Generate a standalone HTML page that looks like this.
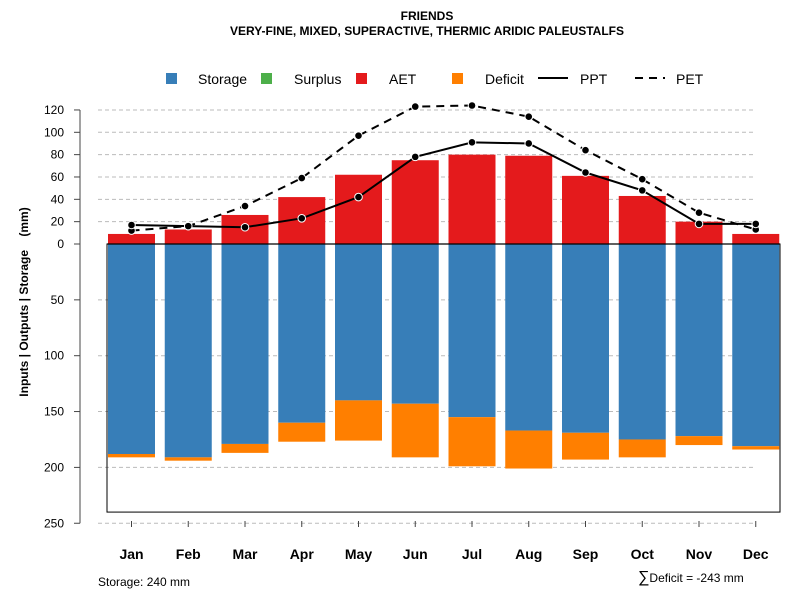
<!DOCTYPE html>
<html><head><meta charset="utf-8"><style>
body{margin:0;background:#fff;}
svg text{font-family:"Liberation Sans",Arial,sans-serif;}
</style></head><body>
<svg id="chart" width="800" height="600" xmlns="http://www.w3.org/2000/svg">
<text x="427" y="20" text-anchor="middle" font-size="12" font-weight="bold">FRIENDS</text>
<text x="427" y="35" text-anchor="middle" font-size="12" font-weight="bold">VERY-FINE, MIXED, SUPERACTIVE, THERMIC ARIDIC PALEUSTALFS</text>
<g id="legend">
<g><rect x="166" y="73" width="11" height="11" fill="#377eb8"/><text x="198" y="84" font-size="14">Storage</text></g>
<g><rect x="261" y="73" width="11" height="11" fill="#4daf4a"/><text x="294" y="84" font-size="14">Surplus</text></g>
<g><rect x="356" y="73" width="11" height="11" fill="#e41a1c"/><text x="389" y="84" font-size="14">AET</text></g>
<g><rect x="452" y="73" width="11" height="11" fill="#ff7f00"/><text x="485" y="84" font-size="14">Deficit</text></g>
<g><line x1="538" y1="78" x2="568" y2="78" stroke="#000" stroke-width="2"/><text x="580" y="84" font-size="14">PPT</text></g>
<g><line x1="635" y1="78" x2="665" y2="78" stroke="#000" stroke-width="2" stroke-dasharray="8,6"/><text x="676" y="84" font-size="14">PET</text></g>
</g>
<text transform="translate(28,302) rotate(-90)" text-anchor="middle" font-size="12" font-weight="bold" style="white-space:pre" xml:space="preserve">Inputs | Outputs | Storage    (mm)</text>
<text x="98" y="586" font-size="12">Storage: 240 mm</text>
<text x="638" y="582" font-size="12"><tspan font-size="16">∑</tspan>Deficit = -243 mm</text>
<g id="grid"></g><g id="bars"></g><g id="lines"></g><g id="axes"></g>
</svg>
<script>
const months=["Jan","Feb","Mar","Apr","May","Jun","Jul","Aug","Sep","Oct","Nov","Dec"];
const aet=[9,13,26,42,62,75,80,79,61,43,20,9];
const ppt=[17,16,15,23,42,78,91,90,64,48,18,18];
const pet=[12,16,34,59,97,123,124,114,84,58,28,13];
const storage=[188,191,179,160,140,143,155,167,169,175,172,181];
const deficit=[3,3,8,17,36,48,44,34,24,16,8,3];
const upTicks=[0,20,40,60,80,100,120];
const downTicks=[50,100,150,200,250];
const capacity=240;
const NS="http://www.w3.org/2000/svg";
const y0=244,k=1.117;
function yUp(v){return y0-v*k;}
function yDown(v){return y0+v*k;}
function xc(i){return 131.5+i*56.75;}
const bw=47;
function mk(tag,attrs,parent){const e=document.createElementNS(NS,tag);for(const a in attrs)e.setAttribute(a,attrs[a]);document.getElementById(parent).appendChild(e);return e;}
upTicks.forEach(t=>{if(t===0)return;const l=mk('line',{x1:98,x2:756,y1:yUp(t),y2:yUp(t),stroke:'#bbb','stroke-dasharray':'4,3'},'grid');

});
downTicks.forEach(t=>{const l=mk('line',{x1:98,x2:756,y1:yDown(t),y2:yDown(t),stroke:'#bbb','stroke-dasharray':'4,3'},'grid');

});
months.forEach((m,i)=>{
const x=xc(i)-bw/2;
const r=mk('rect',{x:x,y:yUp(aet[i]),width:bw,height:aet[i]*k,fill:'#e41a1c'},'bars');


const s=mk('rect',{x:x,y:y0,width:bw,height:storage[i]*k,fill:'#377eb8'},'bars');


const d=mk('rect',{x:x,y:yDown(storage[i]),width:bw,height:deficit[i]*k,fill:'#ff7f00'},'bars');


});
const box=mk('rect',{x:107,y:y0,width:673,height:capacity*k,fill:'none',stroke:'#000','stroke-width':1},'bars');


const zl=mk('line',{x1:107,x2:780,y1:y0,y2:y0,stroke:'#000','stroke-width':1.2},'bars');


function series(vals,name,dash){
const p=mk('polyline',{points:vals.map((v,i)=>xc(i)+','+yUp(v)).join(' '),fill:'none',stroke:'#000','stroke-width':2,'stroke-dasharray':dash},'lines');


vals.forEach((v,i)=>{const c=mk('circle',{cx:xc(i),cy:yUp(v),r:3.8,fill:'#000',stroke:'#fff','stroke-width':1},'lines');

});
}
series(pet,'pet','8,6');
series(ppt,'ppt','none');
const ya=mk('line',{x1:80,x2:80,y1:yUp(120),y2:yDown(250),stroke:'#444','stroke-width':1},'axes');


function ytick(y,lab){mk('line',{x1:74,x2:80,y1:y,y2:y,stroke:'#444'},'axes');
const t=mk('text',{x:64,y:y+4,'text-anchor':'end','font-size':12},'axes');t.textContent=lab;

}
upTicks.forEach(t=>ytick(yUp(t),t));
downTicks.forEach(t=>ytick(yDown(t),t));
months.forEach((m,i)=>{mk('line',{x1:xc(i),x2:xc(i),y1:521,y2:527,stroke:'#444'},'axes');
const t=mk('text',{x:xc(i),y:559,'text-anchor':'middle','font-size':14,'font-weight':'bold'},'axes');t.textContent=m;

});
</script>
</body></html>
